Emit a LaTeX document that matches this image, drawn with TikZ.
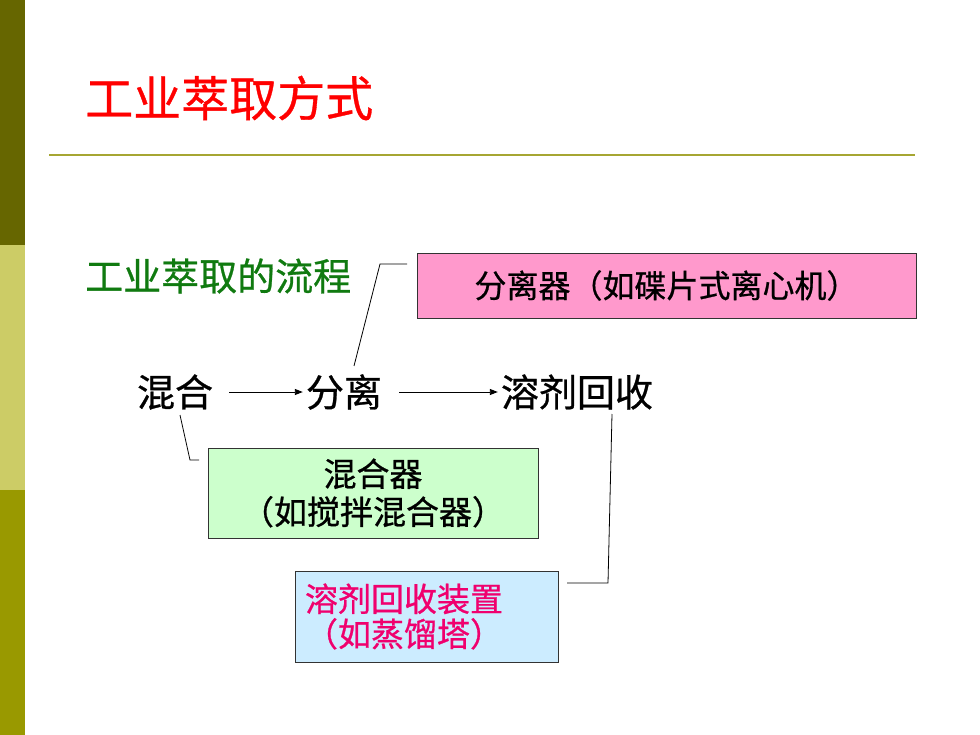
\documentclass[tikz,border=0pt]{standalone}
\usepackage{fontspec}
\setmainfont{Noto Sans CJK SC}
\newfontfamily\heavycjk{Noto Sans CJK SC}[FakeBold=0.7]
\usetikzlibrary{arrows.meta}
\definecolor{bardark}{HTML}{666600}
\definecolor{barlight}{HTML}{CCCC66}
\definecolor{barmid}{HTML}{999900}
\definecolor{rulecol}{HTML}{A6A632}
\definecolor{subgreen}{HTML}{107A10}
\definecolor{pinkfill}{HTML}{FF99CC}
\definecolor{greenfill}{HTML}{CCFFCC}
\definecolor{bluefill}{HTML}{CCECFF}
\definecolor{recovtext}{HTML}{F0006E}
\begin{document}
\begin{tikzpicture}[x=1pt,y=-1pt,
  flowtxt/.style={inner sep=0pt, font=\heavycjk\fontsize{38}{44}\selectfont},
  boxnode/.style={draw=black!80, line width=0.8pt, inner sep=0pt, font=\heavycjk\fontsize{33}{38}\selectfont},
  callout/.style={draw=black, line width=0.8pt},
  flowarrow/.style={-{Triangle[length=8pt,width=6pt]}, line width=0.9pt}]
\useasboundingbox (0,0) rectangle (980,735);
\fill[white] (0,0) rectangle (980,735);
% side bar
\fill[bardark] (0,0) rectangle (25,245);
\fill[barlight] (0,245) rectangle (25,490);
\fill[barmid] (0,490) rectangle (25,735);
% title and rule
\node[anchor=west, inner sep=0pt, text=red, font=\heavycjk\fontsize{48}{56}\selectfont] (title) at (85,98) {工业萃取方式};
\draw[rulecol, line width=2pt] (49,155) -- (915,155);
% subtitle
\node[anchor=west, inner sep=0pt, text=subgreen, font=\heavycjk\fontsize{38}{44}\selectfont] (sub) at (85,276) {工业萃取的流程};
% flow
\node[flowtxt] (mix) at (175,392) {混合};
\node[flowtxt] (sepa) at (344,392) {分离};
\node[flowtxt] (rec) at (577,392) {溶剂回收};
\draw[flowarrow, shorten <=16pt, shorten >=3pt] (mix.east) -- (sepa.west);
\draw[flowarrow, shorten <=17pt, shorten >=3pt] (sepa.east) -- (rec.west);
% boxes
\node[boxnode, fill=pinkfill, minimum width=499pt, minimum height=65pt, font=\heavycjk\fontsize{32}{38}\selectfont] (sepbox) at (666.5,285.5) {分离器（如碟片式离心机）};
\node[boxnode, fill=greenfill, minimum width=330pt, minimum height=90pt, align=center] (mixbox) at (373,493) {混合器\\（如搅拌混合器）};
\node[boxnode, fill=bluefill, text=recovtext, text width=243pt, inner xsep=10pt, minimum height=91pt, align=left, font=\heavycjk\fontsize{33}{35}\selectfont] (recbox) at (426.5,616.5) {溶剂回收装置\\（如蒸馏塔）};
% callouts
\coordinate (s1) at (407,264);
\coordinate (s2) at (380,264);
\coordinate (s3) at (354,366);
\draw[callout] (s1) -- (s2) -- (s3);
\coordinate (m1) at (180,415);
\coordinate (m2) at (190,460);
\coordinate (m3) at (199,460);
\draw[callout] (m1) -- (m2) -- (m3);
\coordinate (r1) at (612,414);
\coordinate (r2) at (608,583);
\coordinate (r3) at (567,583);
\draw[callout] (r1) -- (r2) -- (r3);
\end{tikzpicture}
\end{document}
